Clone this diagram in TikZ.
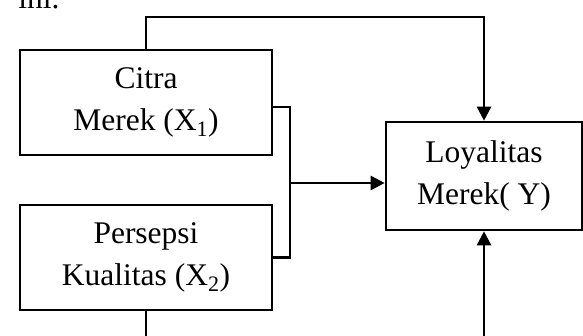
\documentclass[tikz,border=0pt]{standalone}
\usepackage{fontspec}
\setmainfont{Liberation Serif}
\usetikzlibrary{arrows.meta,calc}
\begin{document}
\begin{tikzpicture}[x=1pt,y=-1pt,
  line width=2.6pt,
  varbox/.style={draw, line width=2.6pt, align=center, inner sep=0pt,
    font=\fontsize{31.5}{42}\selectfont},
  link/.style={line width=2.6pt},
  arrowlink/.style={link, -{Triangle[length=14pt,width=14pt]}}]
  \useasboundingbox (0,0) rectangle (583,336);
  \clip (0,0) rectangle (583,336);

  % trailing word of the preceding sentence
  \node[anchor=base west, inner sep=0pt, font=\fontsize{31.5}{42}\selectfont] (prev) at (17,9) {ini.};

  % variables
  \node[varbox, minimum width=252pt, minimum height=105pt] (c1) at (146,102.5)
    {Citra\\Merek (X\textsubscript{1})};
  \node[varbox, minimum width=252pt, minimum height=105pt] (c2) at (146,257.5)
    {Persepsi\\Kualitas (X\textsubscript{2})};
  \node[varbox, minimum width=196pt, minimum height=108pt] (ly) at (484,176)
    {Loyalitas\\Merek( Y)};

  % routing points
  \coordinate (top) at (146,17);
  \coordinate (bot) at (146,350);
  \coordinate (j) at (290,183);
  \coordinate (jt) at (290,107);
  \coordinate (jb) at (290,257.5);

  % X1 -> Y (over the top)
  \draw[arrowlink] (c1.north) -- (top) -| (ly.north);
  % X2 -> Y (under the bottom)
  \draw[arrowlink] (c2.south) -- (bot) -| (ly.south);
  % joint effect of X1 and X2 -> Y
  \draw[link] (c1.east |- jt) -- (jt) -- (jb) -- (c2.east |- jb);
  \draw[arrowlink] (j) -- (j -| ly.west);
\end{tikzpicture}
\end{document}
